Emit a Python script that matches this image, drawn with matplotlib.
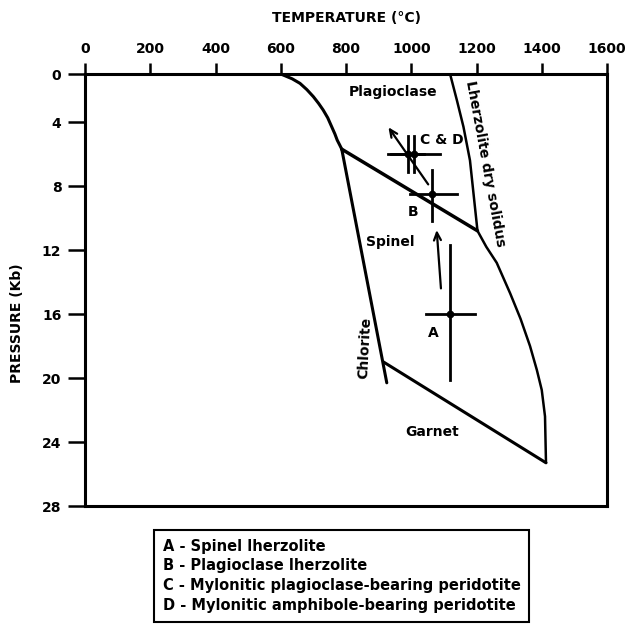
import numpy as np
import matplotlib
matplotlib.use('Agg')
import matplotlib.pyplot as plt
from matplotlib.lines import Line2D

plt.rcParams['font.family'] = ['DejaVu Sans']
plt.rcParams['font.weight'] = 'bold'
plt.rcParams['axes.labelweight'] = 'bold'
plt.rcParams['font.size'] = 10

# ---------------- data ----------------
temp_ticks = [0, 200, 400, 600, 800, 1000, 1200, 1400, 1600]
pres_ticks = [0, 4, 8, 12, 16, 20, 24, 28]

# plagioclase / spinel boundary (curved upper part)
plag_curve_T = [600, 635, 659, 680, 700, 716, 730, 744, 756, 766, 773, 781, 787]
plag_curve_P = [0, 0.4, 0.78, 1.3, 1.89, 2.45, 3.0, 3.65, 4.29, 4.75, 5.13, 5.45, 5.7]
# chlorite stability limit
chlorite_T = [787, 925]
chlorite_P = [5.7, 20.3]
# plagioclase-spinel transition
spinel_plag_T = [787, 1203]
spinel_plag_P = [5.7, 10.8]
# spinel-garnet transition
garnet_T = [915, 1413]
garnet_P = [19.0, 25.3]
# lherzolite dry solidus
solidus_T = [1119, 1140, 1160, 1180, 1203, 1230, 1262, 1303, 1335, 1364, 1385, 1400, 1410, 1413]
solidus_P = [0, 2.2, 4.3, 6.4, 10.8, 11.8, 12.8, 14.7, 16.3, 18.0, 19.5, 20.75, 22.4, 25.3]

# samples with error bars
sample_names = ['A', 'B', 'C', 'D']
sample_T = [1120, 1065, 989, 1009]
sample_P = [16.0, 8.5, 6.0, 6.0]
sample_T_lo = [1045, 996, 939, 930]
sample_T_hi = [1195, 1139, 1040, 1088]
sample_P_lo = [11.7, 7.0, 4.9, 4.9]
sample_P_hi = [20.1, 10.2, 7.1, 7.1]

# P-T path arrows (from, to)
arrow_from_T = [1091, 1052]
arrow_from_P = [14.4, 7.9]
arrow_to_T = [1078, 930]
arrow_to_P = [10.75, 4.33]

legend_labels = ['A - Spinel lherzolite',
                 'B - Plagioclase lherzolite',
                 'C - Mylonitic plagioclase-bearing peridotite',
                 'D - Mylonitic amphibole-bearing peridotite']

# ---------------- figure ----------------
W, H = 631, 628
fig = plt.figure(figsize=(W / 100, H / 100), dpi=100)
ax = fig.add_axes([85 / W, 1 - 506 / H, 522 / W, 432 / H])


def fwd(p):
    p = np.asarray(p, dtype=float)
    return np.where(p < 4, 0.75 * p, p - 1)


def inv(u):
    u = np.asarray(u, dtype=float)
    return np.where(u < 3, u / 0.75, u + 1)


ax.set_yscale('function', functions=(fwd, inv))
ax.set_xlim(0, 1600)
ax.set_ylim(28, 0)

lw = 2.2
ax.plot(plag_curve_T, plag_curve_P, color='black', lw=lw, solid_capstyle='round', solid_joinstyle='round')
ax.plot(chlorite_T, chlorite_P, color='black', lw=lw, solid_capstyle='round')
ax.plot(spinel_plag_T, spinel_plag_P, color='black', lw=lw + 0.3, solid_capstyle='round')
ax.plot(garnet_T, garnet_P, color='black', lw=lw, solid_capstyle='round')
ax.plot(solidus_T, solidus_P, color='black', lw=lw - 0.4, solid_capstyle='round', solid_joinstyle='round')

for i in range(len(sample_names)):
    ax.plot([sample_T_lo[i], sample_T_hi[i]], [sample_P[i], sample_P[i]], color='black', lw=2.0)
    ax.plot([sample_T[i], sample_T[i]], [sample_P_lo[i], sample_P_hi[i]], color='black', lw=2.0)
    ax.plot(sample_T[i], sample_P[i], 'o', color='black', ms=4.5)

for i in range(len(arrow_from_T)):
    ax.annotate('', xy=(arrow_to_T[i], arrow_to_P[i]),
                xytext=(arrow_from_T[i], arrow_from_P[i]),
                arrowprops=dict(arrowstyle='->,head_length=0.55,head_width=0.25',
                                color='black', lw=1.6, shrinkA=0, shrinkB=0))

# region labels
ax.text(945, 1.5, 'Plagioclase', ha='center', va='center')
ax.text(935, 11.5, 'Spinel', ha='center', va='center')
ax.text(1063, 23.4, 'Garnet', ha='center', va='center')
ax.text(1226, 6.6, 'Lherzolite dry solidus', ha='center', va='center', rotation=-79.5)
ax.text(858, 18.1, 'Chlorite', ha='center', va='center', rotation=87)
ax.text(1027, 5.1, 'C & D', ha='left', va='center')
ax.text(1006, 9.6, 'B', ha='center', va='center')
ax.text(1068, 17.2, 'A', ha='center', va='center')

# axes styling
for s in ax.spines.values():
    s.set_linewidth(2.2)
ax.xaxis.tick_top()
ax.set_xticks(temp_ticks)
ax.set_xticklabels([str(t) for t in temp_ticks])
ax.set_yticks(pres_ticks)
ax.set_yticklabels([str(p) for p in pres_ticks])
ax.yaxis.set_minor_locator(matplotlib.ticker.NullLocator())
ax.tick_params(axis='x', direction='out', length=8, width=1.8, pad=5, labelsize=10)
ax.tick_params(axis='y', direction='out', length=12, width=1.8, pad=5, labelsize=10)

ax.xaxis.set_label_position('top')
ax.set_xlabel('TEMPERATURE (°C)', fontsize=10, fontweight='bold')
ax.xaxis.set_label_coords(0.5, (506 - 18) / 432)
ax.xaxis.label.set_va('center')
ax.set_ylabel('PRESSURE (Kb)', fontsize=10, fontweight='bold')
ax.yaxis.set_label_coords((17 - 85) / 522, (506 - 323) / 432)
ax.yaxis.label.set_va('center')

handles = [Line2D([], [], linestyle='none') for _ in legend_labels]
leg = ax.legend(handles, legend_labels, loc='upper left',
                bbox_to_anchor=(154 / W, 1 - 530 / H), bbox_transform=fig.transFigure,
                frameon=True, fancybox=False, edgecolor='black', framealpha=1,
                borderpad=0.6, labelspacing=0.32, handlelength=0, handletextpad=0,
                borderaxespad=0, fontsize=10.5)
leg.get_frame().set_linewidth(1.5)

fig.savefig('out.png', dpi=100)
